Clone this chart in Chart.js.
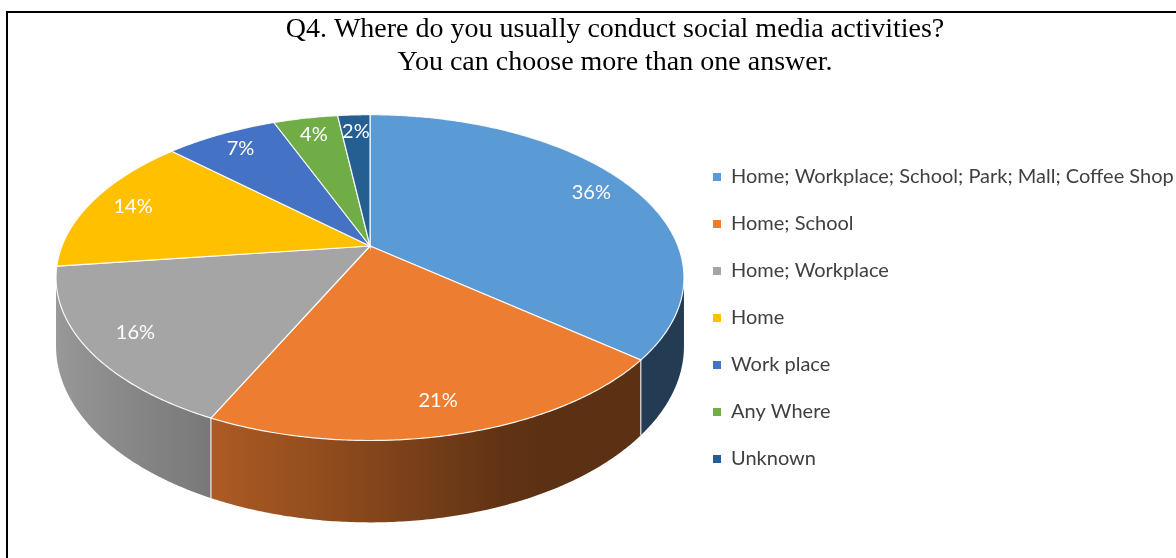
<!DOCTYPE html>
<html lang="en">
<head>
    <meta charset="UTF-8">
    <meta name="viewport" content="width=device-width, initial-scale=1.0">
    <title>Q4 - Social media activities</title>
    <script src="https://cdn.jsdelivr.net/npm/chart.js"></script>
    <style>
        html, body { margin: 0; padding: 0; background: #fff; overflow: hidden; }
        .chart-box { position: relative; width: 1176px; height: 558px; }
        .frame {
            position: absolute; left: 6px; top: 11px;
            width: 1200px; height: 600px;
            border: 2px solid #000; pointer-events: none;
        }
    </style>
</head>
<body>
    <div class="chart-box">
        <canvas id="myChart"></canvas>
        <div class="frame"></div>
    </div>

<script>
const labels = [
    'Home; Workplace; School; Park; Mall; Coffee Shop',
    'Home; School',
    'Home; Workplace',
    'Home',
    'Work place',
    'Any Where',
    'Unknown'
];
const percents = [36, 21, 16, 14, 7, 4, 2];
const colors = ['#5B9BD5', '#ED7D31', '#A5A5A5', '#FFC000', '#4472C4', '#70AD47', '#255E91'];
const titleLines = [
    'Q4. Where do you usually conduct social media activities?',
    'You can choose more than one answer.'
];

// look of the tilted pie
const TILT = 0.509;     // vertical squash of the top face
const PERSP = 0.194;    // how much nearer parts grow
const WALL = 66;        // height of the side wall
const LABEL_POS = 0.85; // labels sit at this fraction of the radius

function shade(hex, f) {
    const n = parseInt(hex.slice(1), 16);
    const r = Math.round(((n >> 16) & 255) * f);
    const g = Math.round(((n >> 8) & 255) * f);
    const b = Math.round((n & 255) * f);
    return `rgb(${r},${g},${b})`;
}

// draws the pie as a tilted 3D disc, using the angles Chart.js computed
const pie3d = {
    id: 'pie3d',
    beforeDatasetDraw(chart, args) {
        const ctx = chart.ctx;
        const arcs = args.meta.data;
        const values = chart.data.datasets[args.index].data;
        const cx = arcs[0].x;
        const R = arcs[0].outerRadius;
        const ry = R * TILT;
        // keep the whole disc (top + wall) centred on the pie centre
        const cyTop = arcs[0].y - ((ry + WALL) / (1 - PERSP) - ry / (1 + PERSP)) / 2;

        // a: angle from the far side, clockwise; f: radius fraction; h: drop
        const proj = (a, f, h) => {
            const c = Math.cos(a), s = Math.sin(a);
            const p = 1 / (1 + PERSP * f * c);
            return [cx + R * f * s * p, cyTop - ry * f * c * p + h * p];
        };
        const edge = Math.acos(-PERSP);
        const visFrom = edge, visTo = 2 * Math.PI - edge;
        const wallTone = a => 0.39 + 0.55 * Math.max(0, Math.cos(0.8 * (1.5 * Math.PI - a)));
        const step = Math.PI / 360;
        const angles = (a1, a2) => {
            const out = [];
            for (let a = a1; a < a2; a += step) out.push(a);
            out.push(a2);
            return out;
        };

        ctx.save();

        // side wall
        arcs.forEach((arc, i) => {
            const a1 = Math.max(arc.startAngle + Math.PI / 2, visFrom);
            const a2 = Math.min(arc.endAngle + Math.PI / 2, visTo);
            if (a2 <= a1) return;
            const pts = angles(a1, a2);
            ctx.beginPath();
            pts.forEach((a, j) => {
                const [x, y] = proj(a, 1, 0);
                j ? ctx.lineTo(x, y) : ctx.moveTo(x, y);
            });
            for (let j = pts.length - 1; j >= 0; j--) {
                const [x, y] = proj(pts[j], 1, WALL);
                ctx.lineTo(x, y);
            }
            ctx.closePath();
            const xr = proj(a1, 1, 0)[0];
            const xl = proj(a2, 1, 0)[0];
            const grad = ctx.createLinearGradient(xl, 0, xr, 0);
            for (let t = 0; t <= 1.0001; t += 0.1) {
                const a = a1 + t * (a2 - a1);
                const pos = (proj(a, 1, 0)[0] - xl) / (xr - xl);
                grad.addColorStop(Math.min(1, Math.max(0, pos)), shade(colors[i], wallTone(a)));
            }
            ctx.fillStyle = grad;
            ctx.fill();
        });

        // white seams on the wall between slices
        ctx.strokeStyle = 'rgba(255,255,255,0.85)';
        ctx.lineWidth = 1.2;
        arcs.forEach(arc => {
            const a = arc.startAngle + Math.PI / 2;
            if (a > visFrom && a < visTo) {
                const [x1, y1] = proj(a, 1, 0);
                const [x2, y2] = proj(a, 1, WALL);
                ctx.beginPath();
                ctx.moveTo(x1, y1);
                ctx.lineTo(x2, y2);
                ctx.stroke();
            }
        });

        // top face
        arcs.forEach((arc, i) => {
            const pts = angles(arc.startAngle + Math.PI / 2, arc.endAngle + Math.PI / 2);
            ctx.beginPath();
            ctx.moveTo(...proj(0, 0, 0));
            pts.forEach(a => ctx.lineTo(...proj(a, 1, 0)));
            ctx.closePath();
            ctx.fillStyle = colors[i];
            ctx.fill();
            ctx.strokeStyle = 'rgba(255,255,255,0.9)';
            ctx.lineWidth = 1.2;
            ctx.stroke();
        });

        // percentage labels
        ctx.fillStyle = '#fff';
        ctx.font = '20px Lato';
        ctx.textAlign = 'center';
        ctx.textBaseline = 'middle';
        arcs.forEach((arc, i) => {
            const mid = (arc.startAngle + arc.endAngle) / 2 + Math.PI / 2;
            const [x, y] = proj(mid, LABEL_POS, 0);
            ctx.fillText(values[i] + '%', x, y);
        });

        ctx.restore();
        return false;
    }
};

function drawChart() {
    const ctx = document.getElementById('myChart').getContext('2d');
    new Chart(ctx, {
        type: 'pie',
        data: {
            labels: labels,
            datasets: [{
                data: percents,
                backgroundColor: colors,
                borderWidth: 0
            }]
        },
        options: {
            responsive: true,
            maintainAspectRatio: false,
            animation: false,
            events: [],
            radius: 308,
            layout: { padding: { left: 54, right: 0, top: 0, bottom: 0 } },
            plugins: {
                title: {
                    display: true,
                    text: titleLines,
                    color: '#000',
                    font: { family: 'Liberation Serif', size: 28, weight: 'normal', lineHeight: 1.18 },
                    padding: { top: 13, bottom: 0 }
                },
                legend: {
                    position: 'right',
                    align: 'center',
                    maxWidth: 490,
                    // empty legend title only pushes the items down
                    title: {
                        display: true,
                        text: '',
                        font: { size: 10, lineHeight: 1.2 },
                        padding: { top: 33, bottom: 33 }
                    },
                    labels: {
                        boxWidth: 8,
                        boxHeight: 8,
                        padding: 27,
                        color: '#404040',
                        font: { family: 'Lato', size: 20 }
                    }
                },
                tooltip: { enabled: false }
            }
        },
        plugins: [pie3d]
    });
}

window.onload = function () {
    drawChart();
};
</script>
</body>
</html>
